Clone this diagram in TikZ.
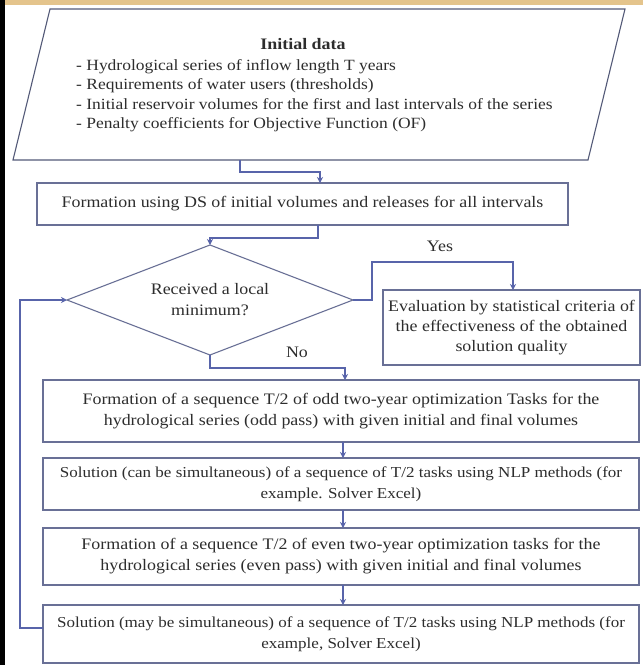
\documentclass[tikz,border=0pt]{standalone}
\usepackage{fontspec}
\setmainfont{Liberation Serif}[FakeStretch=1.12]
\usetikzlibrary{shapes.geometric,arrows.meta}
\definecolor{boxline}{RGB}{105,112,150}
\definecolor{connline}{RGB}{88,100,170}
\definecolor{txt}{RGB}{45,45,45}
\definecolor{topbar}{RGB}{228,196,140}
\tikzset{
  every node/.style={text=txt,font=\fontsize{16}{21}\selectfont},
  procbox/.style={draw=boxline,line width=1.1pt,rectangle,inner sep=0pt,outer sep=0pt,align=center},
  decbox/.style={draw=boxline,line width=1.1pt,diamond,aspect=2.6,inner sep=0pt,outer sep=0pt,align=center},
  conn/.style={draw=connline,line width=1.3pt,-{Stealth[length=6pt,width=6pt]}},
  lbl/.style={inner sep=0pt},
  narrowtext/.style={font=\fontsize{15.2}{21}\selectfont}
}
\begin{document}
\begin{tikzpicture}[x=1pt,y=-1pt]
\useasboundingbox (0,0) rectangle (643,665);
\fill[white] (0,0) rectangle (643,665);
\fill[topbar] (0,0) rectangle (643,5);
\fill[black] (0,0) rectangle (5,665);

% initial data parallelogram
\draw[draw=boxline!80!black,line width=1.1pt] (50,9) -- (625,9) -- (588,160) -- (13,160) -- cycle;
\node[lbl,font=\fontsize{16}{20}\selectfont\bfseries] (title) at (303,44) {Initial data};
\node[lbl,anchor=north west,align=left,font=\fontsize{15.6}{19.5}\selectfont] (list) at (76,59)
 {- Hydrological series of inflow length T years\\
  - Requirements of water users (thresholds)\\
  - Initial reservoir volumes for the first and last intervals of the series\\
  - Penalty coefficients for Objective Function (OF)};
\coordinate (parout) at (240,160);

% boxes
\node[procbox,minimum width=531pt,minimum height=42pt] (box2) at (302.5,204)
 {Formation using DS of initial volumes and releases for all intervals};
\node[decbox,minimum width=286pt,minimum height=110pt] (dia) at (210,300)
 {Received a local\\minimum?};
\node[procbox,minimum width=257pt,minimum height=75pt,font=\fontsize{16}{20}\selectfont] (eval) at (511.5,327.5)
 {Evaluation by statistical criteria of\\the effectiveness of the obtained\\solution quality};
\node[procbox,minimum width=596pt,minimum height=62pt] (box3) at (341,411)
 {Formation of a sequence T/2 of odd two-year optimization Tasks for the\\hydrological series (odd pass) with given initial and final volumes};
\node[procbox,narrowtext,minimum width=596pt,minimum height=52pt] (box4) at (341,484)
 {Solution (can be simultaneous) of a sequence of T/2 tasks using NLP methods (for\\example. Solver Excel)};
\node[procbox,minimum width=596pt,minimum height=57pt] (box5) at (341,556.5)
 {Formation of a sequence T/2 of even two-year optimization tasks for the\\hydrological series (even pass) with given initial and final volumes};
\node[procbox,narrowtext,minimum width=596pt,minimum height=58pt] (box6) at (341,634)
 {Solution (may be simultaneous) of a sequence of T/2 tasks using NLP methods (for\\example, Solver Excel)};

% labels
\node[lbl] (yes) at (440,246) {Yes};
\node[lbl] (no) at (297,352) {No};

% helper coordinates
\coordinate (x320) at (320,0);
\coordinate (x318) at (318,0);
\coordinate (x345) at (345,0);
\coordinate (x343) at (343,0);
\coordinate (x513) at (513,0);
\coordinate (yesup) at (372,262);
\coordinate (fb) at (43,628);
\coordinate (fbx) at (20,628);

% connectors
\draw[conn] (parout) -- (240,172) -| (box2.north -| x320);
\draw[conn] (box2.south -| x318) -- (318,238) -| (dia.north);
\draw[conn] (dia.east) -- (372,300) -- (yesup) -| (eval.north -| x513);
\draw[conn] (dia.south) -- (210,368) -| (box3.north -| x345);
\draw[conn] (box3.south -| x343) -- (box4.north -| x343);
\draw[conn] (box4.south -| x343) -- (box5.north -| x343);
\draw[conn] (box5.south -| x343) -- (box6.north -| x343);
\draw[conn] (fb) -- (fbx) |- (dia.west);
\end{tikzpicture}
\end{document}
